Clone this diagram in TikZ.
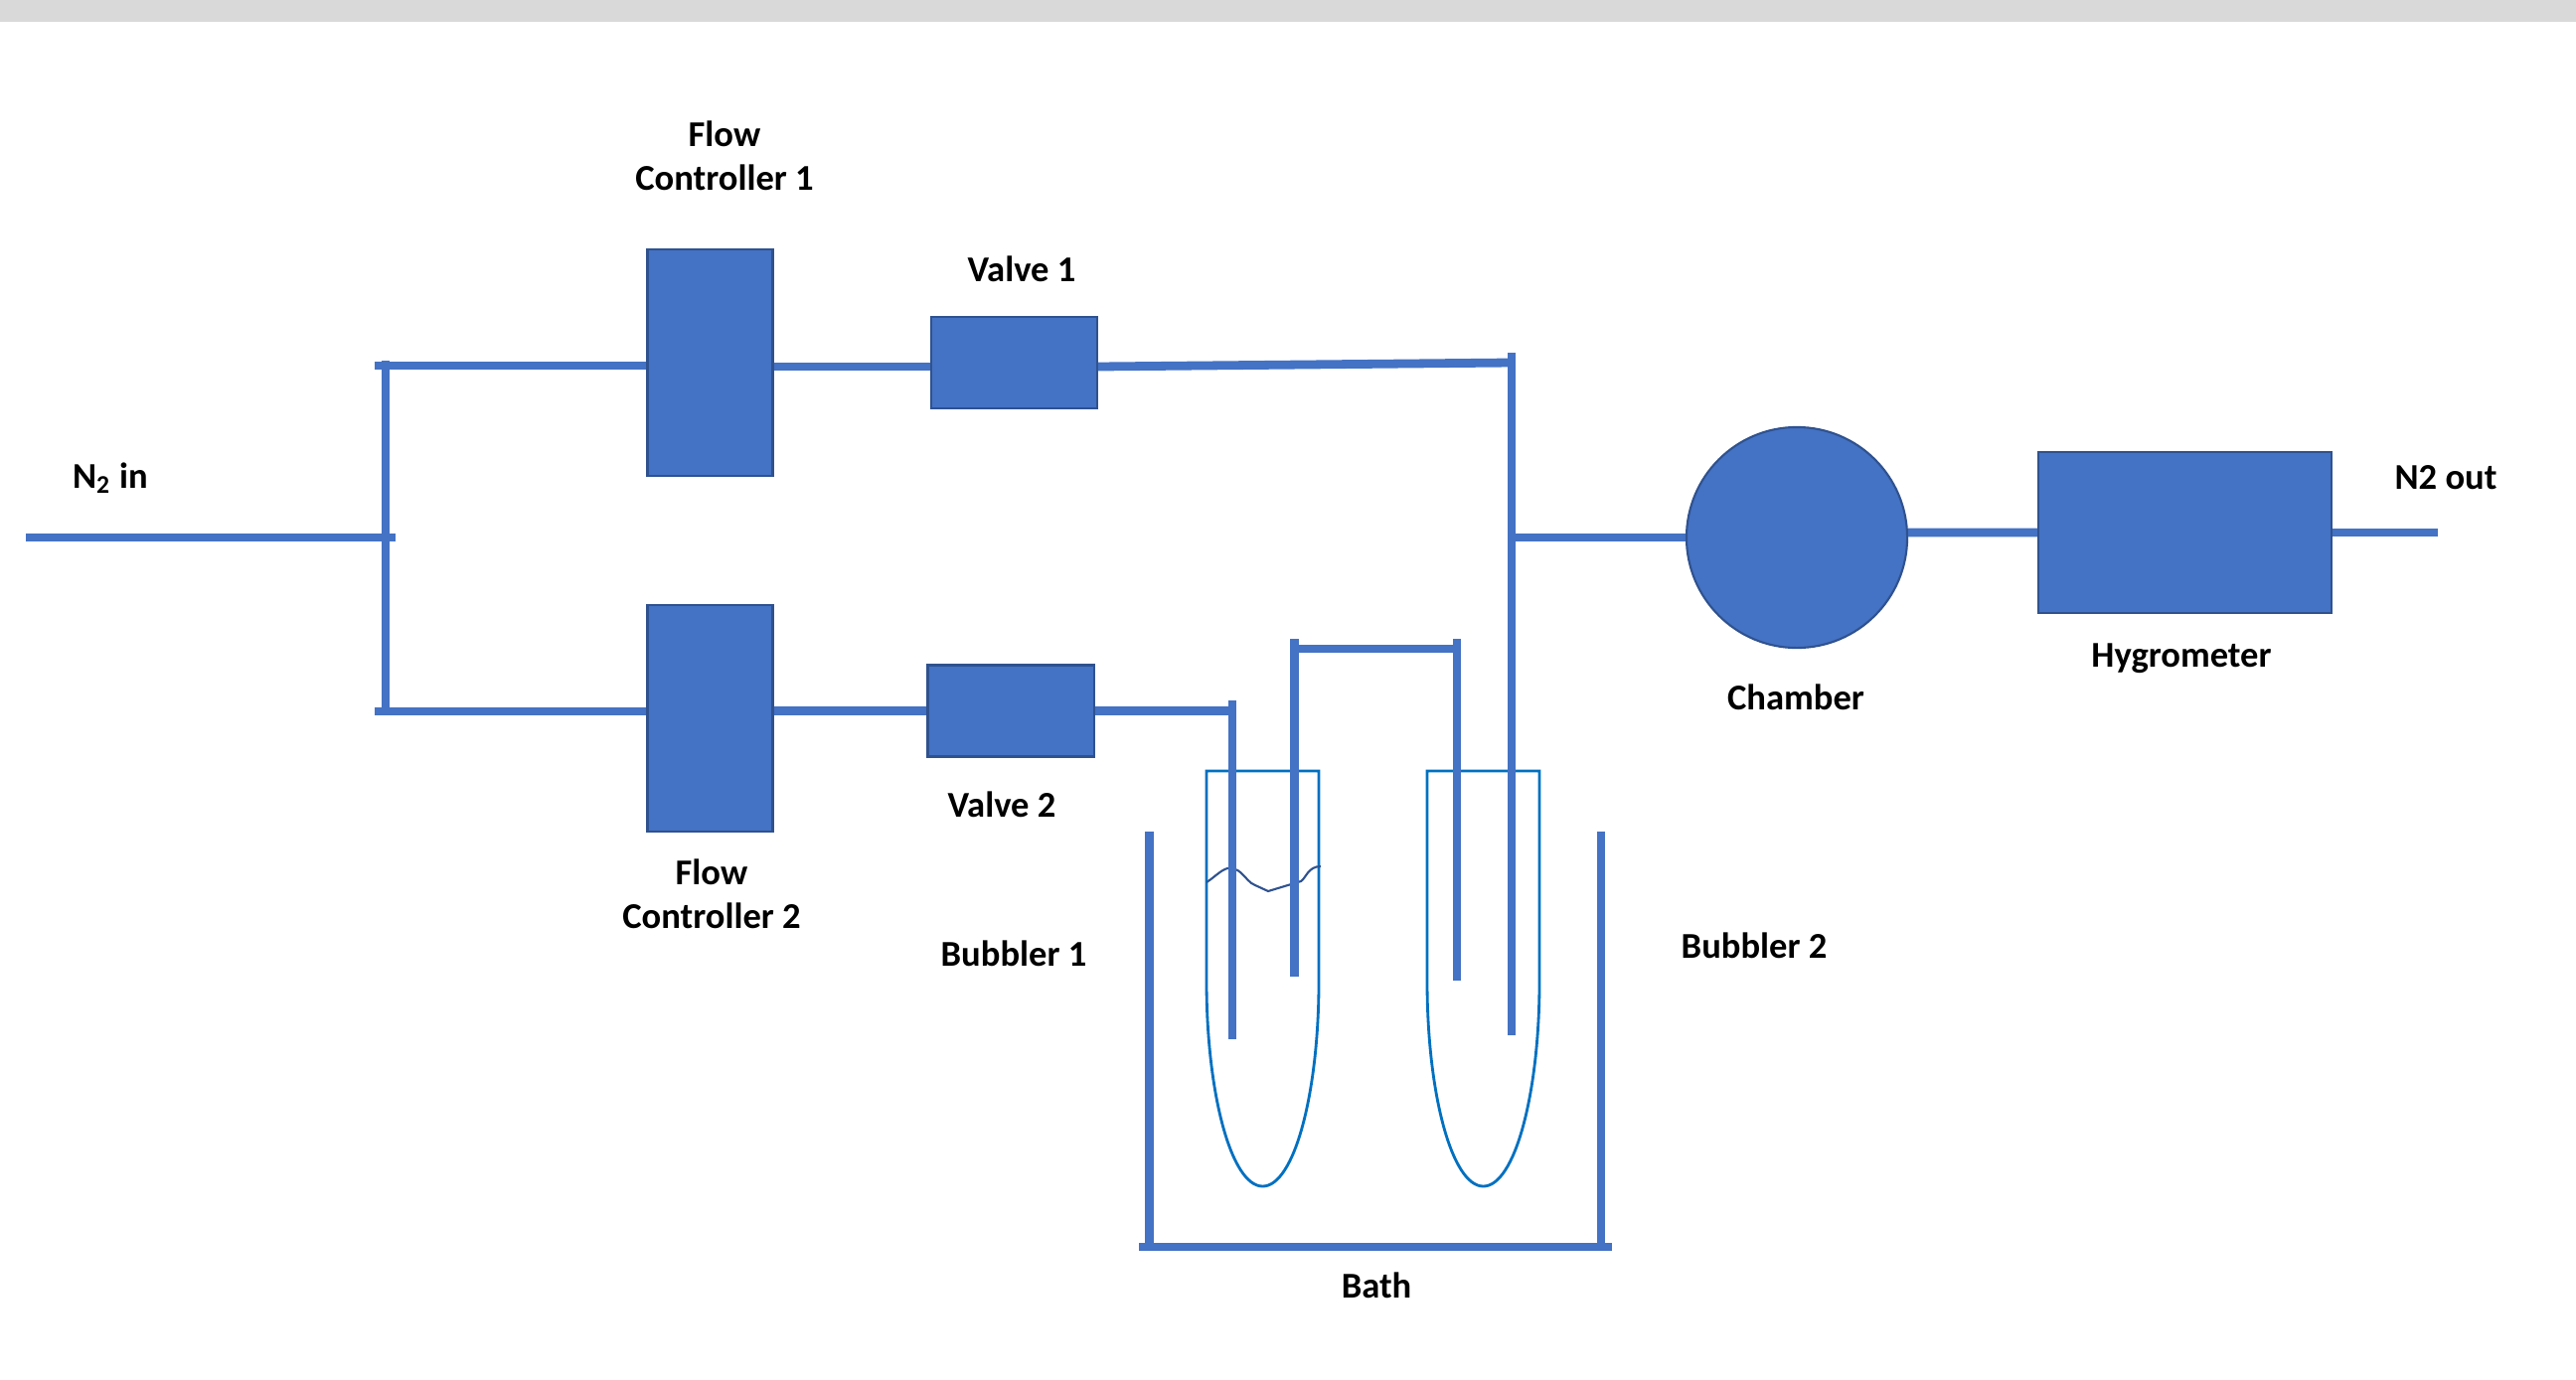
\documentclass[tikz,border=0pt]{standalone}
\usepackage{fontspec}
\setmainfont{Carlito}
\usepackage{xcolor}
\usetikzlibrary{positioning}
\definecolor{pipeblue}{HTML}{4472C4}
\definecolor{edgeblue}{HTML}{2F528F}
\definecolor{tubeblue}{HTML}{0070C0}
\definecolor{bandgray}{HTML}{D9D9D9}
\tikzset{
  unit/.style={rectangle, draw=edgeblue, line width=0.6pt, fill=pipeblue, inner sep=0pt},
  flowbox/.style={unit, minimum width=1.26cm, minimum height=2.28cm},
  valvebox/.style={unit, minimum width=1.67cm, minimum height=0.92cm},
  tag/.style={font=\fontsize{10.4}{12.4}\selectfont\bfseries, align=center, inner sep=0pt, text=black},
  pipe/.style={pipeblue, line width=2.5pt},
  tube/.style={tubeblue, line width=0.8pt},
}

\begin{document}
\begin{tikzpicture}[x=0.01cm, y=-0.01cm]
\useasboundingbox (0,0) rectangle (2592,1388);
\fill[bandgray] (0,0) rectangle (2592,22);

\node[flowbox] (fcone) at (714.5,365) {};
\node[flowbox, below=1.28cm of fcone] (fctwo) {};
\node[valvebox] (valveone) at (1020.5,365) {};
\node[valvebox] (valvetwo) at (1017,715.5) {};
\node[unit, circle, minimum size=2.22cm] (chamber) at (1808,541) {};
\node[unit, minimum width=2.95cm, minimum height=1.62cm] (hygro) at (2198.5,536) {};

\node[tag] (lbfcone) at (729,157) {Flow\\Controller 1};
\node[tag] (lbfctwo) at (716,900) {Flow\\Controller 2};
\node[tag] (lbvalveone) at (1028,271) {Valve 1};
\node[tag] (lbvalvetwo) at (1008,810) {Valve 2};
\node[tag] (lbbubone) at (1020,960) {Bubbler 1};
\node[tag] (lbbubtwo) at (1765,952) {Bubbler 2};
\node[tag] (lbchamber) at (1807,702) {Chamber};
\node[tag] (lbhygro) at (2195,663) {Hygrometer};
\node[tag] (lbin) at (111,481) {N\textsubscript{2} in};
\node[tag] (lbout) at (2461,481) {N2 out};
\node[tag] (lbbath) at (1385,1294) {Bath};

% free ends of the gas lines
\coordinate (inlet) at (26,541);
\coordinate (tee) at (398,541);
\coordinate (splittop) at (377,368);
\coordinate (splitbot) at (377,716);
\coordinate (outlet) at (2453,536);
\coordinate (feedtop) at (1240,705);
\coordinate (feedbot) at (1240,1046);
\coordinate (linktop) at (1302.5,643);
\coordinate (linkbot) at (1302.5,983);
\coordinate (backtop) at (1466,643);
\coordinate (backbot) at (1466,987);
\coordinate (drytop) at (1521,355);
\coordinate (wetbot) at (1521,1042);
\coordinate (drybend) at (1521,365);
\coordinate (junction) at (1519,541);
\coordinate (bathleft) at (1156.5,837);
\coordinate (bathright) at (1611,837);
\coordinate (bathbl) at (1146,1255);
\coordinate (bathbr) at (1622,1255);

% bubblers
\foreach \x in {1214,1436}
  \draw[tube] (\x,776) -- (\x,988)
    .. controls (\x,1101) and (\x+25,1194) .. (\x+56.5,1194)
    .. controls (\x+88,1194) and (\x+113,1101) .. (\x+113,988)
    -- (\x+113,776) -- cycle;
\draw[edgeblue, line width=0.6pt] (1214,888) .. controls (1222,883) and (1228,876) .. (1235,874)
  .. controls (1241,874) and (1245,875) .. (1248,878)
  .. controls (1254,883) and (1257,889) .. (1263,891)
  -- (1276,897) -- (1309,887)
  .. controls (1314,884) and (1316,872) .. (1329,872);

\foreach \a/\b in {inlet/tee, feedtop/feedbot, linktop/linkbot, backtop/backbot, drytop/wetbot,
  bathleft/{bathleft |- bathbl}, bathright/{bathright |- bathbr}, bathbl/bathbr}
  \draw[pipe] (\a) -- (\b);
\draw[pipe] (388,363) -- (388,720);
\draw[pipe] (splittop) -- (fcone.west |- splittop);
\draw[pipe] (splitbot) -- (fctwo.west |- splitbot);
\draw[pipe] ([yshift=-0.04cm]fcone.east) -- ([yshift=-0.04cm]valveone.west);
\draw[pipe] (fctwo.east |- valvetwo.west) -- (valvetwo.west);
\draw[pipe] ([yshift=-0.04cm]valveone.east) -- (drybend);
\draw[pipe] (valvetwo.east) -- (feedtop |- valvetwo.east);
\draw[pipe] (linktop |- 0,653) -- (backtop |- 0,653);
\draw[pipe] (junction) -- (chamber.west);
\draw[pipe] ([yshift=0.05cm]chamber.east) -- (hygro.west);
\draw[pipe] (hygro.east) -- (outlet);
\end{tikzpicture}
\end{document}
